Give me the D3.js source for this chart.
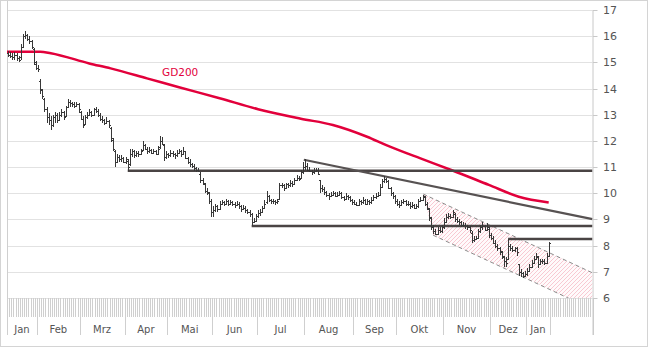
<!DOCTYPE html>
<html><head><meta charset="utf-8">
<script src="https://cdn.jsdelivr.net/npm/d3@7"></script>
<style>body{margin:0;background:#fff}svg{display:block}</style>
</head><body><svg id="c" width="649" height="348"></svg>
<script>
// ---- data ----
const months = ["Jan","Feb","Mrz","Apr","Mai","Jun","Jul","Aug","Sep","Okt","Nov","Dez","Jan"];
const monthStart = [0,14,34,55,75,96,117,139,162,182,204,226,243,254];
const totalDays = 274;
const yTicks = [6,7,8,9,10,11,12,13,14,15,16,17];

const open = [
15.35,15.3,15.25,15.2,15.3,15.15,15.2,15.6,16.0,16.05,15.9,15.8,15.5,14.95,
14.8,14.3,13.95,13.6,13.2,12.9,12.8,12.6,12.9,13.0,12.8,13.0,13.1,12.95,13.3,13.5,13.45,13.4,13.35,13.4,
13.1,12.85,12.65,12.9,13.0,13.1,13.0,13.2,13.15,13.0,12.85,12.8,12.7,12.75,12.5,12.05,11.6,11.2,11.4,11.3,11.35,
11.2,11.25,11.1,11.5,11.6,11.45,11.55,11.5,11.65,11.85,11.7,11.6,11.65,11.55,11.6,11.5,11.75,12.0,11.85,11.4,
11.5,11.45,11.55,11.5,11.45,11.55,11.6,11.5,11.6,11.35,11.2,11.1,11.05,10.95,10.9,10.75,10.5,10.35,10.1,10.0,9.7,
9.3,9.35,9.5,9.4,9.6,9.65,9.6,9.7,9.6,9.65,9.6,9.55,9.6,9.5,9.4,9.45,9.35,9.3,9.2,8.9,8.95,
9.15,9.25,9.3,9.45,9.65,9.9,9.75,9.7,9.7,9.65,9.8,10.3,10.3,10.2,10.35,10.3,10.4,10.35,10.5,10.6,10.6,10.8,
11.0,11.05,10.9,10.85,10.8,10.85,10.9,10.5,10.2,10.15,10.05,9.95,9.9,9.95,10.0,9.9,9.95,10.0,9.85,9.8,9.9,9.85,9.75,
9.65,9.6,9.55,9.7,9.65,9.75,9.6,9.7,9.65,9.75,9.85,9.9,9.95,10.25,10.45,10.55,10.45,10.2,10.0,9.9,
9.7,9.6,9.55,9.65,9.7,9.6,9.6,9.5,9.55,9.45,9.5,9.7,9.75,9.85,9.6,9.4,9.05,8.7,8.55,8.45,8.6,8.55,
8.7,8.9,9.1,9.15,9.1,9.2,9.0,8.95,8.9,8.8,8.8,8.75,8.7,8.5,8.2,8.25,8.3,8.55,8.7,8.75,8.6,8.65,
8.4,8.3,8.1,8.0,7.9,7.75,7.55,7.4,7.5,8.0,7.9,7.85,7.9,7.3,7.0,6.95,6.85,
6.9,7.05,7.2,7.35,7.5,7.55,7.3,7.4,7.4,7.35,7.6];

const high = [
15.45,15.4,15.35,15.4,15.35,15.25,15.7,16.1,16.2,16.1,16.0,15.85,15.55,15.05,
14.9,14.35,14.0,13.65,13.3,13.05,12.95,13.0,13.1,13.05,13.1,13.2,13.15,13.35,13.6,13.55,13.5,13.5,13.5,13.45,
13.15,12.95,13.0,13.1,13.2,13.15,13.25,13.3,13.2,13.05,12.95,12.85,12.9,12.8,12.55,12.1,11.65,11.5,11.45,11.45,11.4,
11.4,11.3,11.7,11.7,11.65,11.6,11.6,11.7,12.0,11.9,11.75,11.75,11.7,11.7,11.65,11.8,12.2,12.15,11.9,11.6,
11.55,11.65,11.6,11.55,11.65,11.7,11.65,11.75,11.6,11.4,11.3,11.15,11.1,11.0,10.95,10.8,10.6,10.4,10.2,10.05,9.8,
9.5,9.6,9.55,9.7,9.75,9.7,9.8,9.75,9.75,9.7,9.65,9.7,9.65,9.55,9.55,9.5,9.4,9.35,9.25,9.05,9.2,
9.35,9.4,9.5,9.75,10.1,9.95,9.8,9.8,9.75,9.8,10.4,10.4,10.35,10.4,10.4,10.5,10.45,10.6,10.7,10.65,10.9,11.2,
11.3,11.15,11.0,10.9,10.95,10.95,10.95,10.5,10.3,10.25,10.1,10.0,10.05,10.1,10.05,10.05,10.1,10.05,9.9,10.0,9.95,9.9,9.8,
9.75,9.65,9.8,9.75,9.85,9.8,9.8,9.75,9.85,9.95,10.0,10.05,10.35,10.55,10.65,10.6,10.5,10.25,10.05,9.95,
9.8,9.7,9.75,9.8,9.75,9.7,9.65,9.65,9.6,9.6,9.8,9.85,9.95,9.9,9.65,9.45,9.1,8.8,8.65,8.7,8.7,8.8,
9.05,9.2,9.25,9.2,9.35,9.25,9.1,9.0,8.95,8.9,8.85,8.8,8.75,8.55,8.35,8.35,8.65,8.8,8.9,8.8,8.85,8.7,
8.5,8.35,8.2,8.05,7.95,7.8,7.6,7.55,8.25,8.05,8.0,7.95,7.95,7.3,7.1,7.0,7.05,
7.15,7.3,7.45,7.6,7.7,7.6,7.5,7.5,7.5,7.7,8.15];

const low = [
15.2,15.15,15.1,15.1,15.05,15.0,15.1,15.55,15.9,15.8,15.7,15.5,14.9,14.7,
14.65,13.8,13.6,13.1,12.7,12.6,12.4,12.55,12.7,12.7,12.75,12.9,12.8,12.9,13.25,13.3,13.3,13.25,13.3,13.05,
12.8,12.5,12.6,12.85,12.95,12.9,12.95,13.05,12.9,12.75,12.7,12.6,12.65,12.5,11.95,11.6,11.0,11.15,11.2,11.2,11.15,
11.1,10.85,11.05,11.4,11.35,11.4,11.4,11.45,11.6,11.65,11.5,11.55,11.5,11.5,11.45,11.45,11.7,11.85,11.25,11.3,
11.35,11.4,11.4,11.3,11.4,11.5,11.4,11.45,11.3,11.1,11.0,10.95,10.85,10.8,10.8,10.4,10.3,10.0,9.95,9.6,9.1,
9.1,9.3,9.3,9.35,9.55,9.5,9.55,9.5,9.55,9.5,9.45,9.5,9.4,9.3,9.35,9.25,9.2,9.1,8.75,8.85,8.9,
9.05,9.15,9.25,9.4,9.6,9.65,9.6,9.6,9.55,9.6,9.75,10.2,10.1,10.15,10.2,10.25,10.25,10.3,10.45,10.45,10.55,10.75,
10.9,10.85,10.8,10.7,10.75,10.8,10.7,10.0,10.05,9.95,9.85,9.75,9.85,9.9,9.85,9.85,9.9,9.8,9.7,9.75,9.75,9.65,9.55,
9.55,9.5,9.5,9.55,9.6,9.55,9.55,9.55,9.6,9.7,9.8,9.85,9.9,10.2,10.4,10.4,10.15,9.9,9.8,9.6,
9.5,9.45,9.5,9.6,9.5,9.5,9.4,9.45,9.4,9.4,9.45,9.65,9.7,9.5,9.35,8.95,8.6,8.45,8.4,8.4,8.5,8.5,
8.65,8.85,9.0,9.0,9.05,8.9,8.85,8.8,8.7,8.7,8.65,8.6,8.5,8.1,8.15,8.2,8.25,8.5,8.6,8.55,8.55,8.3,
8.2,8.05,7.9,7.8,7.65,7.5,7.2,7.2,7.45,7.8,7.75,7.75,7.6,6.85,6.8,6.75,6.8,
6.85,7.0,7.15,7.3,7.45,7.15,7.25,7.3,7.25,7.3,7.6];

const close = [
15.3,15.25,15.2,15.3,15.15,15.1,15.6,16.0,16.05,15.9,15.8,15.6,15.0,14.8,
14.75,14.0,13.7,13.2,12.9,12.8,12.6,12.9,13.0,12.8,13.0,13.1,12.9,13.3,13.5,13.45,13.4,13.35,13.4,13.2,
12.85,12.6,12.9,13.0,13.1,13.0,13.2,13.15,13.0,12.85,12.8,12.7,12.75,12.6,12.1,11.7,11.2,11.4,11.3,11.35,11.2,
11.3,11.0,11.5,11.6,11.45,11.55,11.5,11.6,11.85,11.7,11.6,11.65,11.55,11.6,11.5,11.7,12.0,11.9,11.4,11.5,
11.45,11.55,11.5,11.45,11.55,11.6,11.5,11.6,11.35,11.2,11.1,11.05,10.95,10.9,10.85,10.5,10.4,10.1,10.05,9.7,9.3,
9.35,9.5,9.4,9.6,9.65,9.6,9.7,9.6,9.65,9.6,9.55,9.6,9.5,9.4,9.45,9.35,9.3,9.2,8.9,8.95,9.15,
9.25,9.3,9.45,9.6,9.9,9.75,9.7,9.7,9.65,9.7,10.3,10.3,10.2,10.35,10.3,10.4,10.35,10.5,10.6,10.55,10.8,11.0,
11.05,10.9,10.85,10.8,10.85,10.9,10.75,10.2,10.15,10.05,9.95,9.9,9.95,10.0,9.9,9.95,10.0,9.85,9.8,9.9,9.85,9.75,9.65,
9.6,9.55,9.7,9.65,9.75,9.6,9.7,9.65,9.75,9.85,9.9,9.95,10.25,10.45,10.55,10.45,10.2,10.0,9.9,9.7,
9.6,9.55,9.65,9.7,9.6,9.6,9.5,9.55,9.45,9.5,9.7,9.75,9.9,9.6,9.45,9.1,8.7,8.55,8.45,8.6,8.55,8.7,
8.9,9.1,9.15,9.1,9.3,9.0,8.95,8.9,8.8,8.8,8.75,8.7,8.6,8.2,8.25,8.3,8.55,8.7,8.75,8.6,8.7,8.4,
8.3,8.1,8.0,7.9,7.8,7.6,7.4,7.35,8.0,7.9,7.85,7.9,7.75,7.0,6.95,6.85,6.9,
7.05,7.2,7.35,7.5,7.6,7.3,7.4,7.4,7.35,7.6,8.1];

// 200-day moving average (GD200), read at sample days
const gdDay = [-0.5,15,20,38,48,65,80,99,117,137,152,168,177,193,208,225,239,253];
const gdVal = [15.41,15.41,15.35,14.96,14.77,14.39,14.05,13.63,13.21,12.85,12.61,12.16,11.84,11.33,10.87,10.32,9.87,9.65];

// horizontal support/resistance levels
const levelVal = [10.86, 8.75, 8.25];
const levelDay = [56, 114, 234];

// downward trendline
const trendDay = [138.9, 274];
const trendVal = [11.28, 9.01];

// trend channel (dashed)
const chanUpDay = [194.8, 274];
const chanUpVal = [9.97, 6.96];
const chanLoDay = [199.4, 274];
const chanLoVal = [8.40, 5.565];

// ---- drawing ----
const svg = d3.select("#c");
const L = 7, R = 592.5, T = 10, B = 298;
const x = d3.scaleLinear().domain([0, totalDays]).range([L, R]);
const y = d3.scaleLinear().domain([6, 17]).range([B, T]);
const font = "'DejaVu Sans', Verdana, sans-serif";

// outer frame
svg.append("rect").attr("x",0.5).attr("y",0.5).attr("width",647).attr("height",346)
  .attr("fill","#fff").attr("stroke","#d4d4d4");

const defs = svg.append("defs");
defs.append("clipPath").attr("id","plot").append("rect")
  .attr("x",L).attr("y",T).attr("width",R-L).attr("height",B-T);
const pat = defs.append("pattern").attr("id","hatch").attr("patternUnits","userSpaceOnUse")
  .attr("width",4).attr("height",4);
pat.append("rect").attr("width",4).attr("height",4).attr("fill","#fffafb");
pat.append("path").attr("d","M-1,1 l2,-2 M0,4 l4,-4 M3,5 l2,-2")
  .attr("fill","none").attr("stroke","#f6bcc8").attr("stroke-width",0.8);

// gridlines
svg.append("g").selectAll("line").data(yTicks).join("line")
  .attr("x1",L).attr("x2",R)
  .attr("y1",d=>Math.round(y(d))+0.5).attr("y2",d=>Math.round(y(d))+0.5)
  .attr("stroke","#e2e2e2").attr("stroke-width",1);

// x strip: daily ticks
svg.append("g").selectAll("line").data(d3.range(0,totalDays+1)).join("line")
  .attr("x1",d=>Math.round(x(d))+0.5).attr("x2",d=>Math.round(x(d))+0.5)
  .attr("y1",B).attr("y2",317)
  .attr("stroke","#cfcfcf").attr("stroke-width",1);

// month separators
const seps = monthStart.concat([totalDays]);
svg.append("g").selectAll("line").data(seps).join("line")
  .attr("x1",d=>Math.round(x(d))+0.5).attr("x2",d=>Math.round(x(d))+0.5)
  .attr("y1",317).attr("y2",335)
  .attr("stroke","#cfcfcf");
// left border line
svg.append("line").attr("x1",7.5).attr("x2",7.5).attr("y1",1).attr("y2",335).attr("stroke","#cfcfcf");
// right axis line
svg.append("line").attr("x1",R+0.5).attr("x2",R+0.5).attr("y1",T).attr("y2",335).attr("stroke","#c8c8c8");

// month labels
svg.append("g").selectAll("text").data(months).join("text")
  .attr("x",(d,i)=>(x(monthStart[i])+x(monthStart[i+1]))/2)
  .attr("y",333).attr("text-anchor","middle")
  .attr("font-family",font).attr("font-size","10px").attr("fill","#555")
  .text(d=>d);

// y axis ticks and labels
const ya = svg.append("g");
ya.selectAll("line").data(yTicks).join("line")
  .attr("x1",R+0.5).attr("x2",R+5)
  .attr("y1",d=>Math.round(y(d))+0.5).attr("y2",d=>Math.round(y(d))+0.5)
  .attr("stroke","#c8c8c8");
ya.selectAll("text").data(yTicks).join("text")
  .attr("x",603).attr("y",d=>y(d)+4)
  .attr("font-family",font).attr("font-size","11px").attr("fill","#555")
  .text(d=>d);

const plot = svg.append("g").attr("clip-path","url(#plot)");

// channel fill
const chanPoly = [
  [x(chanUpDay[0]), y(chanUpVal[0])],
  [x(chanUpDay[1]), y(chanUpVal[1])],
  [x(chanLoDay[1]), y(chanLoVal[1])],
  [x(chanLoDay[0]), y(chanLoVal[0])]
];
plot.append("path").attr("d","M"+chanPoly.map(p=>p.join(",")).join("L")+"Z")
  .attr("fill","url(#hatch)").attr("stroke","none");
// channel dashed lines
[[chanUpDay,chanUpVal],[chanLoDay,chanLoVal]].forEach(([d,v])=>{
  plot.append("line").attr("x1",x(d[0])).attr("y1",y(v[0])).attr("x2",x(d[1])).attr("y2",y(v[1]))
    .attr("stroke","#8a8a8a").attr("stroke-width",1).attr("stroke-dasharray","4,3");
});

// GD200
const gdLine = d3.line().x(d=>x(d[0]+0.5)).y(d=>y(d[1])).curve(d3.curveMonotoneX);
const gdPts = gdDay.map((d,i)=>[d,gdVal[i]]);
plot.append("path").attr("d",gdLine(gdPts)).attr("fill","none")
  .attr("stroke","#e2003b").attr("stroke-width",2.5);
svg.append("text").attr("x",162).attr("y",76)
  .attr("font-family",font).attr("font-size","10.5px").attr("fill","#e2003b").text("GD200");

// level lines
plot.append("g").selectAll("line").data(levelVal).join("line")
  .attr("x1",(d,i)=>x(levelDay[i]+0.5)).attr("x2",R)
  .attr("y1",d=>y(d)).attr("y2",d=>y(d))
  .attr("stroke","#4a4444").attr("stroke-width",2.5);

// trendline
plot.append("line").attr("x1",x(trendDay[0])).attr("y1",y(trendVal[0]))
  .attr("x2",x(trendDay[1])).attr("y2",y(trendVal[1]))
  .attr("stroke","#575252").attr("stroke-width",2.2);

// OHLC bars
const n = Math.min(open.length, high.length, low.length, close.length);
const bars = plot.append("g").attr("stroke","#383838").attr("stroke-width",1).attr("shape-rendering","crispEdges");
for (let i = 0; i < n; i++) {
  const cx = Math.round(x(i+0.5)) + 0.5;
  bars.append("line").attr("x1",cx).attr("x2",cx).attr("y1",y(high[i])).attr("y2",y(low[i]));
  const yo = Math.round(y(open[i])) + 0.5, yc = Math.round(y(close[i])) + 0.5;
  bars.append("line").attr("x1",cx-1.5).attr("x2",cx).attr("y1",yo).attr("y2",yo);
  bars.append("line").attr("x1",cx).attr("x2",cx+1.5).attr("y1",yc).attr("y2",yc);
}
</script>
</body></html>
